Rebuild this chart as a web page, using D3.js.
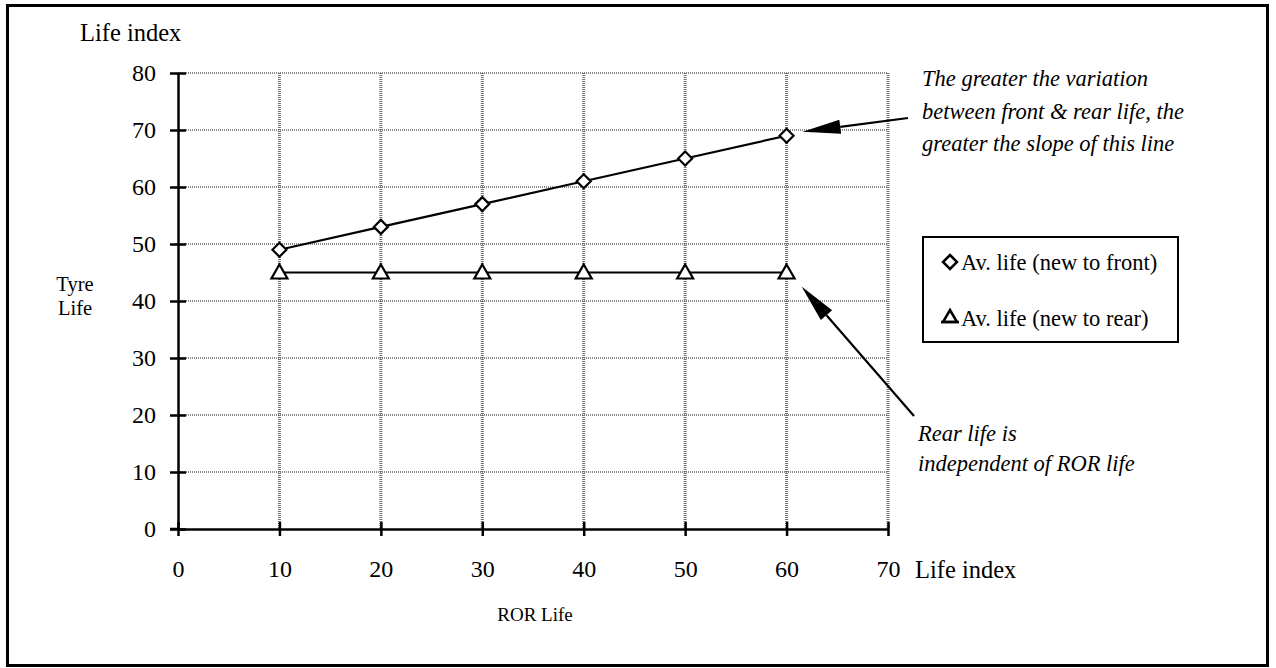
<!DOCTYPE html>
<html>
<head>
<meta charset="utf-8">
<script src="https://cdn.jsdelivr.net/npm/d3@7"></script>
<style>
  html, body { margin: 0; padding: 0; background: #fff; }
  svg { display: block; }
  text { font-family: "Liberation Serif", "DejaVu Serif", serif; fill: #000; }
</style>
</head>
<body>
<svg id="chart" width="1276" height="668"></svg>
<script>
// ---- data ----
const rorLife = [10, 20, 30, 40, 50, 60];
const avFront = [49, 53, 57, 61, 65, 69];
const avRear = [45, 45, 45, 45, 45, 45];
const xTicks = [0, 10, 20, 30, 40, 50, 60, 70];
const yTicks = [0, 10, 20, 30, 40, 50, 60, 70, 80];
const seriesNames = ["Av. life (new to front)", "Av. life (new to rear)"];
const annotationTop = ["The greater the variation", "between front & rear life, the", "greater the slope of this line"];
const annotationBottom = ["Rear life is", "independent of ROR life"];

const svg = d3.select("#chart");
const x = d3.scaleLinear().domain([0, 70]).range([178, 888]);
const y = d3.scaleLinear().domain([0, 80]).range([529, 73]);

// outer frame
svg.append("rect").attr("x", 7.5).attr("y", 5.5).attr("width", 1260).attr("height", 660)
  .attr("fill", "none").attr("stroke", "#000").attr("stroke-width", 3);

// gridlines
const grid = svg.append("g");
grid.selectAll("line.h").data(yTicks.filter(d => d > 0)).join("line")
  .attr("x1", x(0)).attr("x2", x(70)).attr("y1", d => y(d)).attr("y2", d => y(d))
  .attr("stroke", "#8a8a8a").attr("stroke-width", 2).attr("stroke-dasharray", "1,1");
grid.selectAll("line.v").data(xTicks.filter(d => d > 0)).join("line")
  .attr("x1", d => x(d)).attr("x2", d => x(d)).attr("y1", y(80)).attr("y2", y(0))
  .attr("stroke", "#707070").attr("stroke-width", 3).attr("stroke-dasharray", "1,1");

// y axis
const yAxis = svg.append("g").attr("transform", `translate(${x(0)},0)`)
  .call(d3.axisLeft(y).tickValues(yTicks).tickSize(0).tickPadding(22));
yAxis.select(".domain").attr("stroke", "#000").attr("stroke-width", 2.5);
yAxis.selectAll(".tick text").attr("font-size", 24).attr("font-family", "Liberation Serif").attr("fill", "#000");
yAxis.selectAll(".tick").append("line").attr("x1", -8).attr("x2", 8).attr("stroke", "#000").attr("stroke-width", 2.5);

// x axis
const xAxis = svg.append("g").attr("transform", `translate(0,${y(0)})`)
  .call(d3.axisBottom(x).tickValues(xTicks).tickSize(0).tickPadding(31));
xAxis.select(".domain").attr("stroke", "#000").attr("stroke-width", 2.5);
xAxis.selectAll(".tick text").attr("font-size", 24).attr("font-family", "Liberation Serif").attr("fill", "#000");
xAxis.selectAll(".tick").append("line").attr("y1", -7).attr("y2", 7).attr("stroke", "#000").attr("stroke-width", 2.5);
svg.append("line").attr("x1", x(0) - 8).attr("x2", x(0)).attr("y1", y(0)).attr("y2", y(0)).attr("stroke", "#000").attr("stroke-width", 2.5);

// axis titles
svg.append("text").attr("x", 80).attr("y", 41).attr("font-size", 24.5).text("Life index");
svg.append("text").attr("x", 915).attr("y", 578).attr("font-size", 24.5).text("Life index");
svg.append("text").attr("x", 535).attr("y", 621).attr("font-size", 19).attr("text-anchor", "middle").text("ROR Life");
const tyre = svg.append("text").attr("font-size", 20.5).attr("text-anchor", "middle");
tyre.append("tspan").attr("x", 75).attr("y", 291).text("Tyre");
tyre.append("tspan").attr("x", 75).attr("y", 315).text("Life");

// lines
const frontData = rorLife.map((d, i) => [d, avFront[i]]);
const rearData = rorLife.map((d, i) => [d, avRear[i]]);
const line = d3.line().x(d => x(d[0])).y(d => y(d[1]));
svg.append("path").datum(frontData).attr("d", line).attr("fill", "none").attr("stroke", "#000").attr("stroke-width", 2.2);
svg.append("path").datum(rearData).attr("d", line).attr("fill", "none").attr("stroke", "#000").attr("stroke-width", 2.2);

const diamond = "M0,-7L7,0L0,7L-7,0Z";
const triangle = "M0,-8L8,6L-8,6Z";
svg.selectAll("path.fm").data(frontData).join("path")
  .attr("d", diamond).attr("transform", d => `translate(${x(d[0])},${y(d[1])})`)
  .attr("fill", "#fff").attr("stroke", "#000").attr("stroke-width", 2.2);
svg.selectAll("path.rm").data(rearData).join("path")
  .attr("d", triangle).attr("transform", d => `translate(${x(d[0])},${y(d[1])})`)
  .attr("fill", "#fff").attr("stroke", "#000").attr("stroke-width", 2.2);

// legend
svg.append("rect").attr("x", 923).attr("y", 237).attr("width", 255).attr("height", 105)
  .attr("fill", "#fff").attr("stroke", "#000").attr("stroke-width", 2);
svg.append("path").attr("d", diamond).attr("transform", "translate(950,262)")
  .attr("fill", "#fff").attr("stroke", "#000").attr("stroke-width", 2.5);
svg.append("path").attr("d", "M0,-7L7,5L-7,5Z").attr("transform", "translate(950,317)")
  .attr("fill", "#fff").attr("stroke", "#000").attr("stroke-width", 2.5);
svg.append("line").attr("x1", 941).attr("x2", 959).attr("y1", 322).attr("y2", 322).attr("stroke", "#000").attr("stroke-width", 2.5);
svg.append("text").attr("x", 961).attr("y", 270).attr("font-size", 22.5).text(seriesNames[0]);
svg.append("text").attr("x", 961).attr("y", 326).attr("font-size", 22.5).text(seriesNames[1]);

// annotations
function arrow(x1, y1, x2, y2, headLen, headW) {
  const dx = x2 - x1, dy = y2 - y1, L = Math.hypot(dx, dy);
  const ux = dx / L, uy = dy / L;
  const bx = x2 - ux * headLen, by = y2 - uy * headLen;
  svg.append("line").attr("x1", x1).attr("y1", y1).attr("x2", bx).attr("y2", by)
    .attr("stroke", "#000").attr("stroke-width", 2.2);
  const px = -uy * headW / 2, py = ux * headW / 2;
  svg.append("path").attr("d", `M${x2},${y2}L${bx + px},${by + py}L${bx - px},${by - py}Z`).attr("fill", "#000");
}
arrow(908, 118, x(60) + 16, y(69) - 4, 38, 14);
arrow(914, 416, x(60) + 15, y(45) + 14, 38, 15);

const a1 = svg.append("text").attr("font-size", 22.5).attr("font-style", "italic");
annotationTop.forEach((t, i) => a1.append("tspan").attr("x", 922).attr("y", 86 + i * 32.5).text(t));
const a2 = svg.append("text").attr("font-size", 22.5).attr("font-style", "italic");
annotationBottom.forEach((t, i) => a2.append("tspan").attr("x", 918).attr("y", 441 + i * 30).text(t));
</script>
</body>
</html>
